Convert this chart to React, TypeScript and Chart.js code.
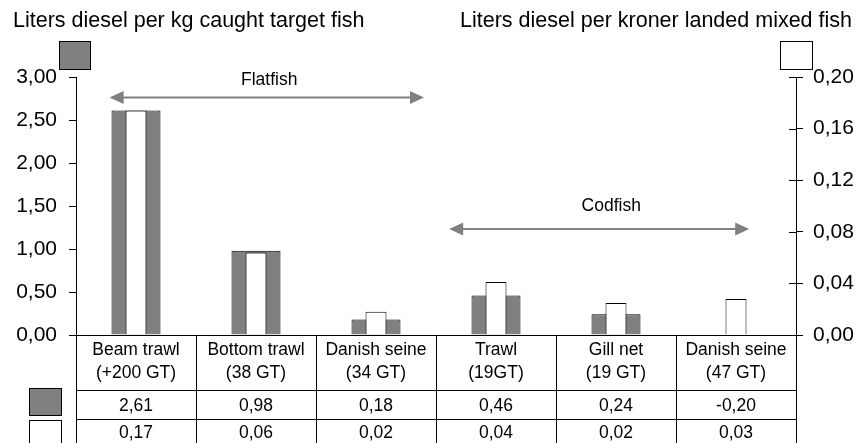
import { useEffect, useRef } from 'react';
import { Chart, registerables } from 'chart.js';

Chart.register(...registerables);

// ---- Data ----
const categories: string[][] = [
  ['Beam trawl', '(+200 GT)'],
  ['Bottom trawl', '(38 GT)'],
  ['Danish seine', '(34 GT)'],
  ['Trawl', '(19GT)'],
  ['Gill net', '(19 GT)'],
  ['Danish seine', '(47 GT)'],
];
const dieselPerKg = [2.61, 0.98, 0.18, 0.46, 0.24, -0.2];
const dieselPerKroner = [0.174, 0.064, 0.018, 0.041, 0.0248, 0.028];

const leftTitle = 'Liters diesel per kg caught target fish';
const rightTitle = 'Liters diesel per kroner landed mixed fish';

const leftAxis = { min: 0, max: 3, step: 0.5 };
const rightAxis = { min: 0, max: 0.2, step: 0.04 };

// group annotations (x in category index units, y in left-axis units)
const groupLabels = ['Flatfish', 'Codfish'];
const groupFrom = [-0.22, 2.61];
const groupTo = [2.4, 5.11];
const groupArrowY = [2.762, 1.233];
const groupTextX = [1.11, 3.96];
const groupTextY = [2.965, 1.5];

const FONT = '"Liberation Sans", Arial, Helvetica, sans-serif';
const GRAY = '#808080';

const fmt = (v: number) => v.toFixed(2).replace('.', ',');

const extrasPlugin = {
  id: 'extras',
  afterDraw(chart: any) {
    const { ctx, chartArea, width, height } = chart;
    const xs = chart.scales.x;
    const yl = chart.scales.y;
    const yr = chart.scales.y1;
    const al = (v: number) => Math.round(v) + 0.5;
    ctx.save();

    // titles
    ctx.fillStyle = '#000';
    ctx.font = `21.5px ${FONT}`;
    ctx.textBaseline = 'middle';
    ctx.textAlign = 'left';
    ctx.fillText(leftTitle, 13, 21);
    ctx.textAlign = 'right';
    ctx.fillText(rightTitle, width - 7, 21);

    // top legend keys
    ctx.lineWidth = 1;
    ctx.strokeStyle = '#000';
    ctx.fillStyle = GRAY;
    ctx.fillRect(chartArea.left - 17, chartArea.top - 36, 31, 28);
    ctx.strokeRect(al(chartArea.left - 17), al(chartArea.top - 36), 31, 28);
    ctx.fillStyle = '#fff';
    ctx.fillRect(chartArea.right - 16, chartArea.top - 36, 32, 28);
    ctx.strokeRect(al(chartArea.right - 16), al(chartArea.top - 36), 32, 28);

    // right axis inner tick halves
    ctx.beginPath();
    yr.ticks.forEach((t: any) => {
      const py = al(yr.getPixelForValue(t.value));
      ctx.moveTo(chartArea.right - 7, py);
      ctx.lineTo(chartArea.right, py);
    });
    ctx.stroke();

    // baseline
    const base = yl.getPixelForValue(0);
    ctx.beginPath();
    ctx.moveTo(chartArea.left, al(base));
    ctx.lineTo(chartArea.right + 1, al(base));
    ctx.stroke();

    // data table
    const half = (xs.getPixelForValue(1) - xs.getPixelForValue(0)) / 2;
    const r1 = base + 55;
    const r2 = base + 84;
    const r3 = base + 113;
    ctx.beginPath();
    for (let i = 0; i <= categories.length; i++) {
      const px = al(xs.getPixelForValue(i) - half);
      ctx.moveTo(px, al(base));
      ctx.lineTo(px, Math.max(r3, height));
    }
    [r1, r2, r3].forEach((ry) => {
      ctx.moveTo(chartArea.left, al(ry));
      ctx.lineTo(chartArea.right, al(ry));
    });
    ctx.stroke();

    ctx.fillStyle = '#000';
    ctx.font = `17.5px ${FONT}`;
    ctx.textAlign = 'center';
    ctx.textBaseline = 'middle';
    categories.forEach((lines, i) => {
      const cx = xs.getPixelForValue(i);
      ctx.fillText(lines[0], cx, base + 15);
      ctx.fillText(lines[1], cx, base + 38);
      ctx.fillText(fmt(dieselPerKg[i]), cx, base + 71);
      ctx.fillText(fmt(dieselPerKroner[i]), cx, base + 98);
    });

    // table legend keys
    ctx.fillStyle = GRAY;
    ctx.fillRect(chartArea.left - 47, r1 - 2, 32, 27);
    ctx.strokeRect(al(chartArea.left - 47), al(r1 - 2), 32, 27);
    ctx.fillStyle = '#fff';
    ctx.fillRect(chartArea.left - 47, r2 + 1, 32, 28);
    ctx.strokeRect(al(chartArea.left - 47), al(r2 + 1), 32, 28);

    // group arrows
    groupLabels.forEach((label, i) => {
      const x1 = xs.getPixelForValue(groupFrom[i]);
      const x2 = xs.getPixelForValue(groupTo[i]);
      const ay = yl.getPixelForValue(groupArrowY[i]);
      const head = 14;
      const hw = 6.5;
      ctx.strokeStyle = GRAY;
      ctx.fillStyle = GRAY;
      ctx.lineWidth = 2;
      ctx.beginPath();
      ctx.moveTo(x1 + head - 1, ay);
      ctx.lineTo(x2 - head + 1, ay);
      ctx.stroke();
      ctx.beginPath();
      ctx.moveTo(x1, ay);
      ctx.lineTo(x1 + head, ay - hw);
      ctx.lineTo(x1 + head, ay + hw);
      ctx.closePath();
      ctx.fill();
      ctx.beginPath();
      ctx.moveTo(x2, ay);
      ctx.lineTo(x2 - head, ay - hw);
      ctx.lineTo(x2 - head, ay + hw);
      ctx.closePath();
      ctx.fill();
      ctx.fillStyle = '#000';
      ctx.font = `17.5px ${FONT}`;
      ctx.textAlign = 'center';
      ctx.textBaseline = 'middle';
      ctx.fillText(label, xs.getPixelForValue(groupTextX[i]), yl.getPixelForValue(groupTextY[i]));
    });

    ctx.restore();
  },
};

export default function App() {
  const canvasRef = useRef<HTMLCanvasElement | null>(null);

  useEffect(() => {
    document.body.style.margin = '0';
    const canvas = canvasRef.current;
    if (!canvas) return;
    const chart = new Chart(canvas, {
      type: 'bar',
      data: {
        labels: categories,
        datasets: [
          {
            label: 'Liters diesel per kroner landed mixed fish',
            data: dieselPerKroner,
            yAxisID: 'y1',
            backgroundColor: '#ffffff',
            borderColor: '#000000',
            borderWidth: 1,
            grouped: false,
            barPercentage: 21 / 120,
            categoryPercentage: 1,
            order: 1,
            clip: 0,
          } as any,
          {
            label: 'Liters diesel per kg caught target fish',
            data: dieselPerKg,
            yAxisID: 'y',
            backgroundColor: GRAY,
            borderColor: '#000000',
            borderWidth: 1,
            grouped: false,
            barPercentage: 49 / 120,
            categoryPercentage: 1,
            order: 2,
            clip: 0,
          } as any,
        ],
      },
      options: {
        responsive: false,
        animation: false,
        devicePixelRatio: 1,
        layout: { padding: { top: 77, bottom: 108, left: 0, right: 0 } },
        plugins: {
          legend: { display: false },
          tooltip: { enabled: false },
          title: { display: false },
        },
        scales: {
          x: {
            display: false,
            offset: true,
          },
          y: {
            position: 'left',
            min: leftAxis.min,
            max: leftAxis.max,
            afterFit: (s: any) => {
              s.width = 76;
            },
            ticks: {
              stepSize: leftAxis.step,
              padding: 12,
              color: '#000',
              font: { family: FONT, size: 21 },
              callback: (v: any) => fmt(Number(v)),
            },
            grid: {
              drawOnChartArea: false,
              drawTicks: true,
              tickLength: 7,
              color: '#000',
            },
            border: { display: true, color: '#000' },
          },
          y1: {
            position: 'right',
            min: rightAxis.min,
            max: rightAxis.max,
            afterFit: (s: any) => {
              s.width = 63;
            },
            ticks: {
              stepSize: rightAxis.step,
              padding: 10,
              color: '#000',
              font: { family: FONT, size: 21 },
              callback: (v: any) => fmt(Number(v)),
            },
            grid: {
              drawOnChartArea: false,
              drawTicks: true,
              tickLength: 7,
              color: '#000',
            },
            border: { display: true, color: '#000' },
          },
        },
      } as any,
      plugins: [extrasPlugin],
    });
    return () => chart.destroy();
  }, []);

  return (
    <div style={{ position: 'absolute', left: 0, top: 0, width: 859, height: 443, background: '#fff' }}>
      <canvas ref={canvasRef} width={859} height={443} />
    </div>
  );
}
